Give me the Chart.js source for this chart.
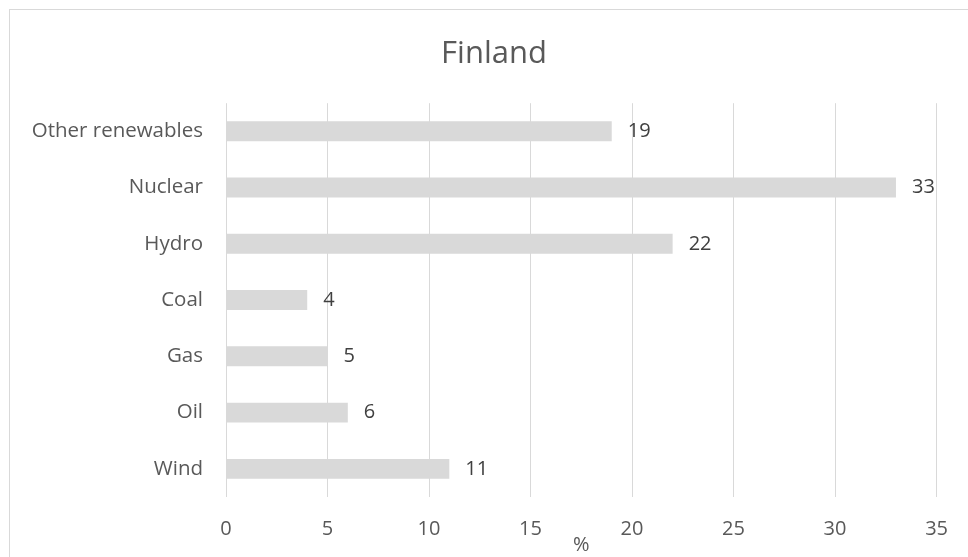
<!DOCTYPE html>
<html>
<head>
<meta charset="utf-8">
<title>Finland</title>
<script src="https://cdn.jsdelivr.net/npm/chart.js@4/dist/chart.umd.min.js"></script>
<style>
  html, body { margin: 0; padding: 0; background: #ffffff; overflow: hidden; }
  #frame {
    position: absolute; left: 9px; top: 9px; width: 970px; height: 560px;
    border: 1px solid #d9d9d9; box-sizing: border-box;
  }
  #wrap { position: absolute; left: 0; top: 0; width: 968px; height: 557px; }
</style>
</head>
<body>
<div id="frame"></div>
<div id="wrap"><canvas id="chart" width="968" height="557"></canvas></div>
<script>
// data
const categories = ["Other renewables", "Nuclear", "Hydro", "Coal", "Gas", "Oil", "Wind"];
const shares = [19, 33, 22, 4, 5, 6, 11];
const xTicks = [0, 5, 10, 15, 20, 25, 30, 35];

const FONT = "'Open Sans', 'Noto Sans', sans-serif";

// value labels to the right of each bar
const barLabels = {
  id: "barLabels",
  afterDatasetsDraw(chart) {
    const ctx = chart.ctx;
    const meta = chart.getDatasetMeta(0);
    ctx.save();
    ctx.font = "20px " + FONT;
    ctx.fillStyle = "#404040";
    ctx.textAlign = "left";
    ctx.textBaseline = "middle";
    meta.data.forEach((bar, i) => {
      ctx.fillText(String(shares[i]), bar.x + 16, bar.y);
    });
    ctx.restore();
  }
};

// center the title on the outer frame (which runs past the right edge)
const titleOnFrame = {
  id: "titleOnFrame",
  afterLayout(chart) {
    if (chart.titleBlock) {
      chart.titleBlock.left = 9;
      chart.titleBlock.right = 979;
    }
  }
};

new Chart(document.getElementById("chart"), {
  type: "bar",
  data: {
    labels: categories,
    datasets: [{
      data: shares,
      backgroundColor: "#d9d9d9",
      borderWidth: 0,
      categoryPercentage: 1,
      barPercentage: 0.355
    }]
  },
  plugins: [barLabels, titleOnFrame],
  options: {
    indexAxis: "y",
    responsive: false,
    animation: false,
    layout: { padding: { left: 0, right: 30, top: 0, bottom: 0 } },
    plugins: {
      legend: { display: false },
      tooltip: { enabled: false },
      title: {
        display: true,
        text: "Finland",
        color: "#595959",
        font: { family: FONT, size: 31, weight: "normal" },
        padding: { top: 36, bottom: 30 }
      }
    },
    scales: {
      x: {
        min: 0,
        max: 35,
        afterBuildTicks(scale) {
          scale.ticks = xTicks.map(v => ({ value: v }));
        },
        afterFit(scale) { scale.height = 60; },
        grid: { color: "#d9d9d9", lineWidth: 1, drawTicks: false },
        border: { display: false },
        ticks: {
          color: "#595959",
          padding: 20,
          font: { family: FONT, size: 20 }
        },
        title: {
          display: true,
          text: "%",
          color: "#595959",
          padding: 0,
          font: { family: FONT, size: 20 }
        }
      },
      y: {
        afterFit(scale) { scale.width = 226; },
        grid: { display: false },
        border: { display: false },
        ticks: {
          color: "#595959",
          padding: 15,
          font: { family: FONT, size: 20.5 }
        }
      }
    }
  }
});
</script>
</body>
</html>
